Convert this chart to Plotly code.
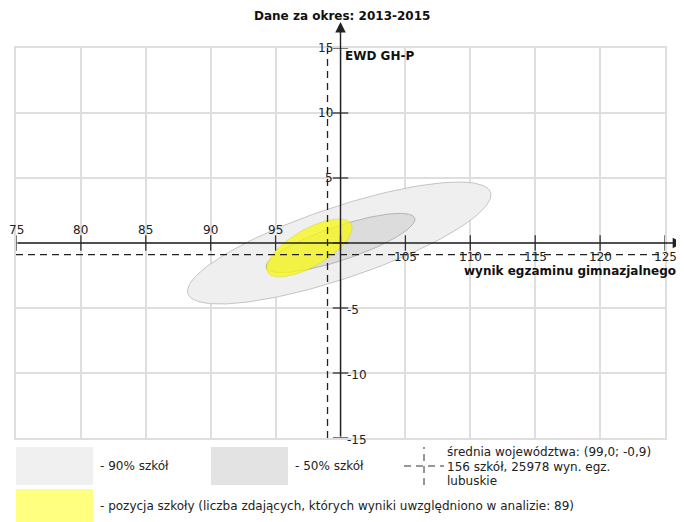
import numpy as np
import plotly.graph_objects as go

# ---------------- data ----------------
x_ticks = [75, 80, 85, 90, 95, 100, 105, 110, 115, 120, 125]
y_ticks = [-15, -10, -5, 0, 5, 10, 15]
x_label_above = [75, 80, 85, 90, 95]
x_label_below = [105, 110, 115, 120, 125]
y_label_left = [15, 10, 5]
y_label_right = [-5, -10, -15]

# ellipses: centre x, centre y, semi-axis a, semi-axis b, angle (deg)
ell_names = ["90% szkół", "50% szkół", "pozycja szkoły"]
ell_cx = [99.9, 100.0, 97.6]
ell_cy = [0.0, 0.0, -0.38]
ell_a = [12.29, 6.03, 3.72]
ell_b = [2.75, 1.31, 1.43]
ell_ang = [18.5, 18.5, 30.0]
ell_fill = ["#efefef", "rgba(214,214,214,0.75)", "rgba(248,248,20,0.76)"]
ell_edge = ["#c4c4c4", "#b4b4b4", "rgba(200,200,0,0.35)"]

mean_x = 99.0
mean_y = -0.9

title_text = "Dane za okres: 2013-2015"
x_title = "wynik egzaminu gimnazjalnego"
y_title = "EWD GH-P"
leg_90 = "- 90% szkół"
leg_50 = "- 50% szkół"
leg_mean = ["średnia województwa: (99,0; -0,9)", "156 szkół, 25978 wyn. egz.", "lubuskie"]
leg_school = "- pozycja szkoły (liczba zdających, których wyniki uwzględniono w analizie: 89)"

# ---------------- figure ----------------
OFF = 8                      # page body margin
W, H = 684 - OFF, 522 - OFF
L, T = 16 - OFF, 48 - OFF
R = W - (665 - OFF)
B = H - (438 - OFF)
PW, PH = W - L - R, H - T - B
FONT = "DejaVu Sans"


def px(x):
    """page pixel x -> paper fraction"""
    return (x - OFF - L) / PW


def py(y):
    """page pixel y -> paper fraction"""
    return (H - B - (y - OFF)) / PH


fig = go.Figure()

t = np.linspace(0, 2 * np.pi, 200)
for i in range(len(ell_names)):
    th = np.deg2rad(ell_ang[i])
    ex = ell_a[i] * np.cos(t)
    ey = ell_b[i] * np.sin(t)
    xs = ell_cx[i] + ex * np.cos(th) - ey * np.sin(th)
    ys = ell_cy[i] + ex * np.sin(th) + ey * np.cos(th)
    fig.add_trace(go.Scatter(x=xs, y=ys, mode="lines", fill="toself",
                             fillcolor=ell_fill[i],
                             line=dict(color=ell_edge[i], width=1),
                             hoverinfo="skip", showlegend=False))

# tick marks on the central axes
fig.add_trace(go.Scatter(x=x_ticks, y=[0] * len(x_ticks), mode="markers",
                         marker=dict(symbol="line-ns", size=11,
                                     line=dict(color="#333333", width=1.3)),
                         cliponaxis=False, hoverinfo="skip", showlegend=False))
fig.add_trace(go.Scatter(x=[100] * len(y_ticks), y=y_ticks, mode="markers",
                         marker=dict(symbol="line-ew", size=11,
                                     line=dict(color="#333333", width=1.3)),
                         cliponaxis=False, hoverinfo="skip", showlegend=False))

shapes = []
# mean dashed lines
shapes.append(dict(type="line", xref="x", yref="y", x0=75, x1=125, y0=mean_y, y1=mean_y,
                   line=dict(color="#222222", width=1.3, dash="7px,5px"), layer="above"))
shapes.append(dict(type="line", xref="x", yref="y", x0=mean_x, x1=mean_x, y0=-15, y1=15,
                   line=dict(color="#222222", width=1.3, dash="7px,5px"), layer="above"))

# legend boxes
shapes.append(dict(type="rect", xref="paper", yref="paper", x0=px(16), x1=px(93), y0=py(485), y1=py(447),
                   fillcolor="#f0f0f0", line=dict(width=0), layer="above"))
shapes.append(dict(type="rect", xref="paper", yref="paper", x0=px(211), x1=px(288), y0=py(485), y1=py(447),
                   fillcolor="#e3e3e3", line=dict(width=0), layer="above"))
shapes.append(dict(type="rect", xref="paper", yref="paper", x0=px(16), x1=px(93), y0=py(522), y1=py(489),
                   fillcolor="#ffff80", line=dict(width=0), layer="above"))
# legend cross symbol
shapes.append(dict(type="line", xref="paper", yref="paper", x0=px(424), x1=px(424), y0=py(485), y1=py(447),
                   line=dict(color="#333333", width=1, dash="7px,5px")))
shapes.append(dict(type="line", xref="paper", yref="paper", x0=px(404), x1=px(444), y0=py(466), y1=py(466),
                   line=dict(color="#333333", width=1, dash="7px,5px")))

annotations = []
# axes with arrows
annotations.append(dict(x=126.4, y=0, ax=75, ay=0, xref="x", yref="y", axref="x", ayref="y",
                        showarrow=True, arrowhead=2, arrowsize=1.5, arrowwidth=1.4,
                        arrowcolor="#222222", text=""))
annotations.append(dict(x=100, y=17.0, ax=100, ay=-15, xref="x", yref="y", axref="x", ayref="y",
                        showarrow=True, arrowhead=2, arrowsize=1.5, arrowwidth=1.4,
                        arrowcolor="#222222", text=""))

tick_font = dict(family=FONT, size=12, color="#222222")
for v in x_label_above:
    annotations.append(dict(x=v, y=0, xref="x", yref="y", text=str(v), showarrow=False,
                            xanchor="center", yanchor="bottom", yshift=4, font=tick_font))
for v in x_label_below:
    annotations.append(dict(x=v, y=0, xref="x", yref="y", text=str(v), showarrow=False,
                            xanchor="center", yanchor="top", yshift=-5, font=tick_font))
for v in y_label_left:
    annotations.append(dict(x=100, y=v, xref="x", yref="y", text=str(v), showarrow=False,
                            xanchor="right", yanchor="middle", xshift=-6, font=tick_font))
for v in y_label_right:
    annotations.append(dict(x=100, y=v, xref="x", yref="y", text=str(v), showarrow=False,
                            xanchor="left", yanchor="middle", xshift=4, yshift=-2, font=tick_font))

bold = dict(family=FONT, size=12, color="#111111")
annotations.append(dict(x=px(342), y=py(16), xref="paper", yref="paper", text="<b>" + title_text + "</b>",
                        showarrow=False, xanchor="center", yanchor="middle", font=bold))
annotations.append(dict(x=px(678), y=py(271), xref="paper", yref="paper", text="<b>" + x_title + "</b>",
                        showarrow=False, xanchor="right", yanchor="middle", font=bold))
annotations.append(dict(x=px(343), y=py(56), xref="paper", yref="paper", text="<b>" + y_title + "</b>",
                        showarrow=False, xanchor="left", yanchor="middle", font=bold))

leg_font = dict(family=FONT, size=12, color="#222222")
annotations.append(dict(x=px(98), y=py(466), xref="paper", yref="paper", text=leg_90,
                        showarrow=False, xanchor="left", yanchor="middle", font=leg_font))
annotations.append(dict(x=px(293), y=py(466), xref="paper", yref="paper", text=leg_50,
                        showarrow=False, xanchor="left", yanchor="middle", font=leg_font))
for k, line in enumerate(leg_mean):
    annotations.append(dict(x=px(445), y=py(452 + 14.5 * k), xref="paper", yref="paper", text=line,
                            showarrow=False, xanchor="left", yanchor="middle", font=leg_font))
annotations.append(dict(x=px(98), y=py(506), xref="paper", yref="paper", text=leg_school,
                        showarrow=False, xanchor="left", yanchor="middle", font=leg_font))

fig.update_layout(
    width=W, height=H,
    margin=dict(l=L, r=R, t=T, b=B, pad=0),
    paper_bgcolor="white", plot_bgcolor="white",
    showlegend=False,
    shapes=shapes, annotations=annotations,
    font=dict(family=FONT, size=12),
    xaxis=dict(range=[75, 125], tick0=75, dtick=5, showgrid=True, gridcolor="#dedede", gridwidth=2,
               showticklabels=False, ticks="", zeroline=False, showline=True, mirror=True,
               linecolor="#dedede", linewidth=2, fixedrange=True),
    yaxis=dict(range=[-15, 15], tick0=-15, dtick=5, showgrid=True, gridcolor="#dedede", gridwidth=2,
               showticklabels=False, ticks="", zeroline=False, showline=True, mirror=True,
               linecolor="#dedede", linewidth=2, fixedrange=True),
)

fig.write_html("out.html")
